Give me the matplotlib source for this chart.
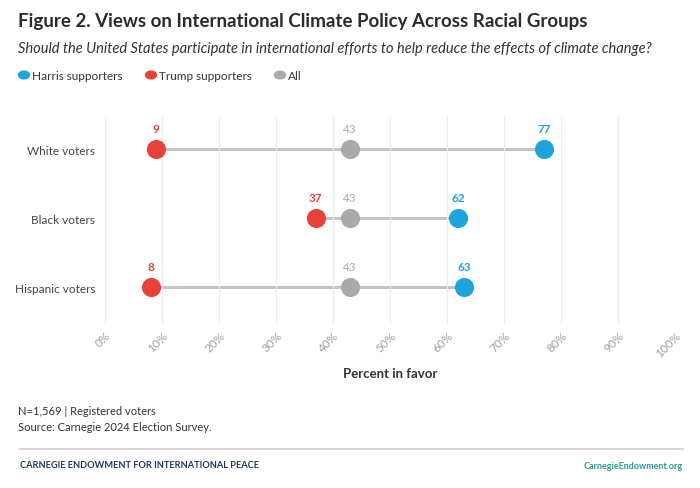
import matplotlib.pyplot as plt

plt.rcParams['font.family'] = ['Lato', 'DejaVu Sans']

groups = ['White voters', 'Black voters', 'Hispanic voters']
harris = [77, 62, 63]
trump = [9, 37, 8]
all_voters = [43, 43, 43]
ticks = [0, 10, 20, 30, 40, 50, 60, 70, 80, 90, 100]

BLUE = '#1ea4dd'
RED = '#e8413a'
GRAY = '#a9aaad'
LINE = '#c4c4c4'

W, H = 700, 489
fig = plt.figure(figsize=(7, 4.89), dpi=100)

# axes placed in pixel terms: x 105..675, y 118..325 (from top)
ax = fig.add_axes([105 / W, 1 - 325 / H, 570 / W, 207 / H])
ax.set_xlim(0, 100)
ax.set_ylim(2.536, -0.464)

ypos = list(range(len(groups)))
for y, t, a, h in zip(ypos, trump, all_voters, harris):
    lo, hi = min(t, a, h), max(t, a, h)
    ax.plot([lo, hi], [y, y], color=LINE, lw=2.2, zorder=1, solid_capstyle='butt')

ax.scatter(trump, ypos, s=190, color=RED, zorder=3, linewidths=0)
ax.scatter(all_voters, ypos, s=190, color=GRAY, zorder=3, linewidths=0)
ax.scatter(harris, ypos, s=190, color=BLUE, zorder=3, linewidths=0)

for y, t, a, h in zip(ypos, trump, all_voters, harris):
    ax.annotate(str(t), (t, y), xytext=(0, 11), textcoords='offset points',
                ha='center', va='bottom', color=RED, fontsize=8.5, fontweight='bold')
    ax.annotate(str(a), (a, y), xytext=(0, 11), textcoords='offset points',
                ha='center', va='bottom', color=GRAY, fontsize=8.5)
    ax.annotate(str(h), (h, y), xytext=(0, 11), textcoords='offset points',
                ha='center', va='bottom', color=BLUE, fontsize=8.5, fontweight='bold')

ax.set_yticks(ypos)
ax.set_yticklabels(groups, fontsize=8.5, color='#444444')
ax.set_xticks(ticks)
ax.set_xticklabels([f'{v}%' for v in ticks], rotation=45, ha='right',
                   rotation_mode='anchor', fontsize=8.5, color='#a0a0a0')
ax.tick_params(axis='both', length=0)
ax.tick_params(axis='x', pad=4)
ax.tick_params(axis='y', pad=7)
ax.grid(axis='x', color='#ececec', lw=0.8, zorder=0)
for s in ax.spines.values():
    s.set_visible(False)

ax.set_xlabel('Percent in favor', fontsize=9.5, fontweight='bold', color='#333333', labelpad=6)

# header
fig.text(18 / W, 1 - 22 / H, 'Figure 2. Views on International Climate Policy Across Racial Groups',
         fontsize=13.5, fontweight='bold', color='#2b2b2b', va='center', ha='left')
fig.text(18 / W, 1 - 49 / H,
         'Should the United States participate in international efforts to help reduce the effects of climate change?',
         fontsize=10.5, style='italic', color='#333333', va='center', ha='left')

legend_items = [('Harris supporters', BLUE, 24), ('Trump supporters', RED, 151), ('All', GRAY, 280)]
for label, col, x in legend_items:
    fig.patches.append(plt.Circle((x / W, 1 - 76 / H), 5.5 / W, color=col,
                                  transform=fig.transFigure, figure=fig))
    fig.text((x + 8) / W, 1 - 76 / H, label, fontsize=8.5, color='#333333', va='center', ha='left')

# notes and footer
fig.text(18 / W, 1 - 412 / H, 'N=1,569 | Registered voters', fontsize=8, color='#333333', va='center')
fig.text(18 / W, 1 - 428 / H, 'Source: Carnegie 2024 Election Survey.', fontsize=8, color='#333333', va='center')
fig.add_artist(plt.Line2D([20 / W, 683 / W], [1 - 450 / H, 1 - 450 / H], color='#cfcfcf', lw=1.2))
fig.text(20 / W, 1 - 466 / H, 'CARNEGIE ENDOWMENT FOR INTERNATIONAL PEACE', fontsize=6.7,
         fontweight='bold', color='#1f3a5c', va='center')
fig.text(683 / W, 1 - 467 / H, 'CarnegieEndowment.org', fontsize=6.5, fontweight='bold',
         color='#2b9a98', va='center', ha='right')

fig.savefig('out.png', dpi=100)
